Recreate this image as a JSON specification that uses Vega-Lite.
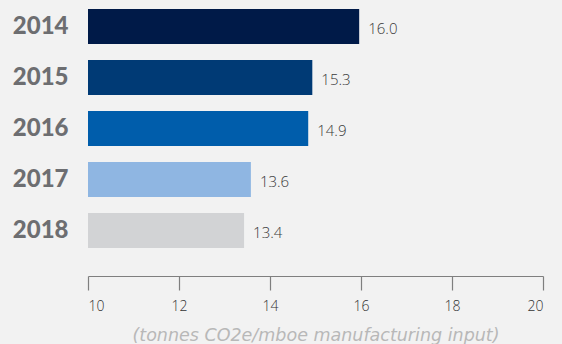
{
  "$schema": "https://vega.github.io/schema/vega-lite/v6.json",
  "width": 455,
  "height": 255,
  "autosize": "none",
  "padding": {"left": 88, "top": 1, "right": 19, "bottom": 88},
  "background": "#f2f2f2",
  "config": {"view": {"stroke": null}},
  "data": {"values": [
    {"year": "2014", "length": 15.96, "label": "16.0"},
    {"year": "2015", "length": 14.93, "label": "15.3"},
    {"year": "2016", "length": 14.84, "label": "14.9"},
    {"year": "2017", "length": 13.58, "label": "13.6"},
    {"year": "2018", "length": 13.43, "label": "13.4"}
  ]},
  "encoding": {
    "y": {"field": "year", "type": "nominal", "sort": null,
      "scale": {"paddingInner": 0.314, "paddingOuter": 0.157},
      "axis": {"title": null, "domain": false, "ticks": false, "labelPadding": 20,
        "labelFont": "Lato", "labelFontWeight": 900, "labelFontSize": 24, "labelColor": "#6d6e71"}},
    "x": {"field": "length", "type": "quantitative",
      "scale": {"domain": [10, 20], "clamp": true},
      "axis": {"title": "(tonnes CO2e/mboe manufacturing input)", "values": [10, 12, 14, 16, 18, 20],
        "offset": 20, "grid": false, "domainColor": "#7f7f7f", "domainWidth": 1.2, "tickColor": "#7f7f7f", "tickWidth": 1.2, "tickSize": 14,
        "labelFont": "Open Sans", "labelFontWeight": 300, "labelFontSize": 14, "labelColor": "#333333", "labelPadding": 9,
        "titleFont": "DejaVu Sans", "titleFontStyle": "italic", "titleFontWeight": 200, "titleFontSize": 17.5, "titleColor": "#b8b8b8", "titlePadding": 13}}
  },
  "layer": [
    {"mark": {"type": "bar", "x": 0, "clip": false},
      "encoding": {"x2": {"datum": 10},
        "color": {"field": "year", "type": "nominal", "legend": null,
          "scale": {"domain": ["2014", "2015", "2016", "2017", "2018"], "range": ["#001a48", "#003a75", "#005dab", "#8fb6e2", "#d2d3d5"]}}}},
    {"mark": {"type": "text", "align": "left", "baseline": "middle", "dx": 9, "dy": 2, "font": "Open Sans", "fontWeight": 300, "fontSize": 15, "color": "#3a3a3a"},
      "encoding": {"text": {"field": "label", "type": "nominal"}}}
  ]
}
